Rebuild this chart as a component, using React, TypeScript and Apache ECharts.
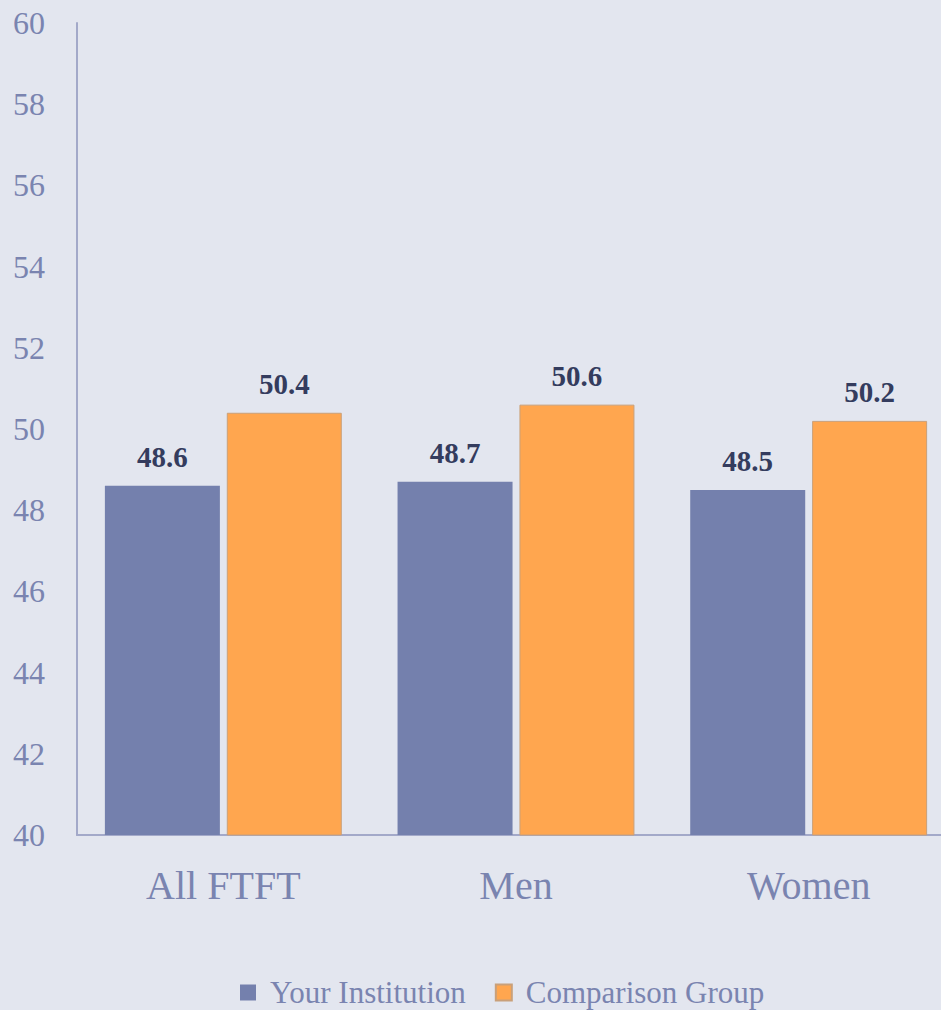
import React, { useEffect, useRef } from "react";
import * as echarts from "echarts";

const categories = ["All FTFT", "Men", "Women"];
const yourInstitution = [48.6, 48.7, 48.5];
const comparisonGroup = [50.4, 50.6, 50.2];
const seriesNames = ["Your Institution", "Comparison Group"];

const FONT = "'Liberation Serif', 'DejaVu Serif', serif";

export default function App() {
  const ref = useRef<HTMLDivElement>(null);
  useEffect(() => {
    if (!ref.current) return;
    const chart = echarts.init(ref.current, undefined, { renderer: "svg" });
    const labelStyle = {
      show: true,
      position: "top" as const,
      distance: 14,
      fontFamily: FONT,
      fontWeight: "bold" as const,
      fontSize: 29,
      color: "#343C5E",
      formatter: (p: any) => p.value.toFixed(1),
    };
    chart.setOption({
      animation: false,
      backgroundColor: "#E3E6EF",
      grid: { left: 77, right: 0, top: 23, bottom: 175, containLabel: false },
      legend: {
        bottom: 2,
        left: 240,
        padding: 0,
        itemWidth: 16,
        itemHeight: 16,
        itemGap: 29,
        icon: "rect",
        textStyle: { fontFamily: FONT, fontSize: 31, color: "#7A84B0", padding: [0, 0, 0, 9] },
        data: seriesNames,
      },
      xAxis: {
        type: "category",
        data: categories,
        axisLine: { lineStyle: { color: "#A3A9C9", width: 2 } },
        axisTick: { show: false },
        axisLabel: { fontFamily: FONT, fontSize: 40, color: "#7A84B0", margin: 30 },
      },
      yAxis: {
        type: "value",
        min: 40,
        max: 60,
        interval: 2,
        axisLine: { show: true, lineStyle: { color: "#A3A9C9", width: 2 } },
        axisTick: { show: false },
        splitLine: { show: false },
        axisLabel: { fontFamily: FONT, fontSize: 32, color: "#7A84B0", margin: 32 },
      },
      series: [
        {
          name: seriesNames[0],
          type: "bar",
          data: yourInstitution,
          barWidth: 115,
          barGap: "6%",
          itemStyle: { color: "#7480AD" },
          label: labelStyle,
        },
        {
          name: seriesNames[1],
          type: "bar",
          data: comparisonGroup,
          barWidth: 115,
          itemStyle: { color: "#FFA64F", borderColor: "#C9A07A", borderWidth: 1 },
          label: labelStyle,
        },
      ],
    });
    return () => chart.dispose();
  }, []);
  return (
    <div style={{ position: "fixed", left: 0, top: 0, width: 941, height: 1010, overflow: "hidden" }}>
      <div ref={ref} style={{ width: 955, height: 1010 }} />
    </div>
  );
}
